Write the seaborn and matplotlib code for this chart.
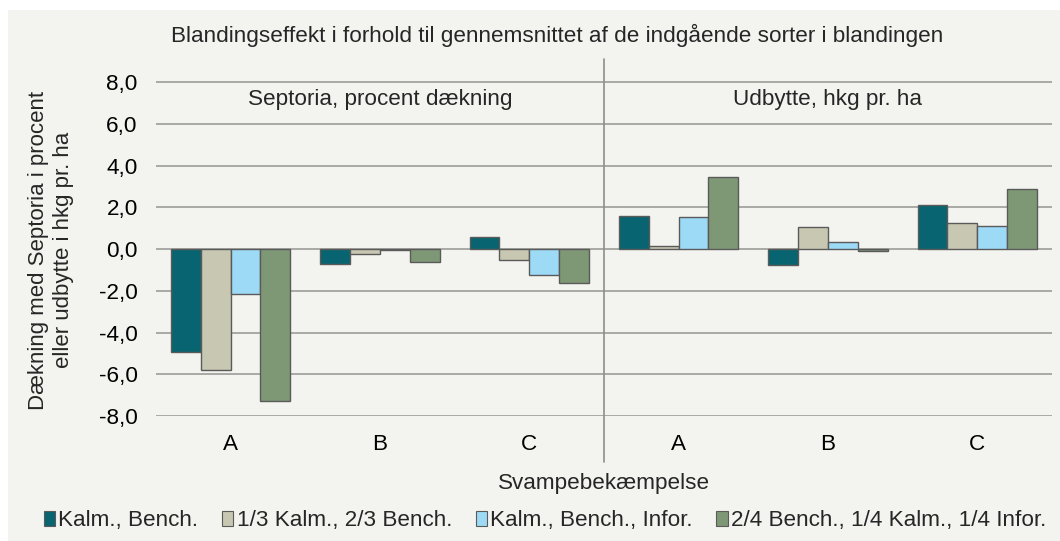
import matplotlib.pyplot as plt
import matplotlib.patches as mpatches
import pandas as pd
import seaborn as sns

# Data
groups = ["A", "B", "C", "A", "B", "C"]
series = ["Kalm., Bench.", "1/3 Kalm., 2/3 Bench.", "Kalm., Bench., Infor.",
          "2/4 Bench., 1/4 Kalm., 1/4 Infor."]
kalm_bench = [-4.95, -0.72, 0.56, 1.60, -0.77, 2.12]
third_kalm = [-5.79, -0.24, -0.51, 0.17, 1.06, 1.26]
kalm_bench_infor = [-2.17, -0.05, -1.25, 1.52, 0.32, 1.12]
bench_kalm_infor = [-7.27, -0.64, -1.60, 3.47, -0.08, 2.86]
colors = ["#076470", "#C8C7B2", "#9CDAF6", "#7E9876"]
yticks = [-8, -6, -4, -2, 0, 2, 4, 6, 8]

slots = [f"g{i}" for i in range(len(groups))]
rows = []
for name, vals in zip(series, [kalm_bench, third_kalm, kalm_bench_infor, bench_kalm_infor]):
    for slot, v in zip(slots, vals):
        rows.append({"slot": slot, "serie": name, "value": v})
df = pd.DataFrame(rows)

sns.set_style("white")
plt.rcParams["font.family"] = ["Liberation Sans", "DejaVu Sans"]
bg = "#F3F3EF"
fs = 16.2

fig = plt.figure(figsize=(10.6, 5.41), dpi=100, facecolor="white")
fig.patches.append(mpatches.Rectangle((8 / 1060, 0), 1, 1 - 10 / 541, transform=fig.transFigure,
                                      facecolor=bg, edgecolor="none", zorder=-10))
ax = fig.add_axes([0.147, 0.231, 0.8455, 0.6555])
ax.set_facecolor(bg)

sns.barplot(data=df, x="slot", y="value", hue="serie", order=slots, hue_order=series,
            palette=colors, saturation=1, edgecolor="#5A5A5A", linewidth=1, width=0.8, gap=0,
            ax=ax, legend=False, zorder=3)

ax.set_ylim(-8, 9)
ax.set_xlim(-0.5, 5.5)
ax.set_yticks(yticks)
ax.set_yticklabels([f"{t:.1f}".replace(".", ",") for t in yticks], fontsize=fs)
for t in yticks:
    ax.axhline(t, color="#A3A3A0", lw=1.3, zorder=1)
ax.set_xticks(range(len(groups)))
ax.set_xticklabels(groups, fontsize=fs)
ax.tick_params(axis="y", length=0, pad=13, colors="black")
ax.tick_params(axis="x", length=0, pad=13, colors="black")
for s in ax.spines.values():
    s.set_visible(False)

ax.plot([2.5, 2.5], [9.1, -10.2], color="#8E8E8C", lw=1.2, clip_on=False, zorder=2)
ax.text(1, 7.15, "Septoria, procent dækning", ha="center", va="center", fontsize=fs)
ax.text(4, 7.15, "Udbytte, hkg pr. ha", ha="center", va="center", fontsize=fs)

ax.set_xlabel("Svampebekæmpelse", fontsize=fs, labelpad=13)
ax.set_ylabel("")
fig.text(51 / 1060, 1 - 250 / 541, "Dækning med Septoria i procent\neller udbytte i hkg pr. ha",
         rotation=90, ha="center", va="center", fontsize=16, linespacing=1.2)
fig.text(0.526, 0.935, "Blandingseffekt i forhold til gennemsnittet af de indgående sorter i blandingen",
         ha="center", va="center", fontsize=fs)

handles = [mpatches.Patch(facecolor=c, edgecolor="#5A5A5A", lw=0.8, label=n) for c, n in zip(colors, series)]
fig.legend(handles=handles, loc="center", bbox_to_anchor=(545 / 1060, 0.037), ncol=4, frameon=False,
           fontsize=fs, handlelength=0.5, handleheight=0.6, handletextpad=0.15, columnspacing=1.05)

fig.savefig("out.png", dpi=100, facecolor="white")
